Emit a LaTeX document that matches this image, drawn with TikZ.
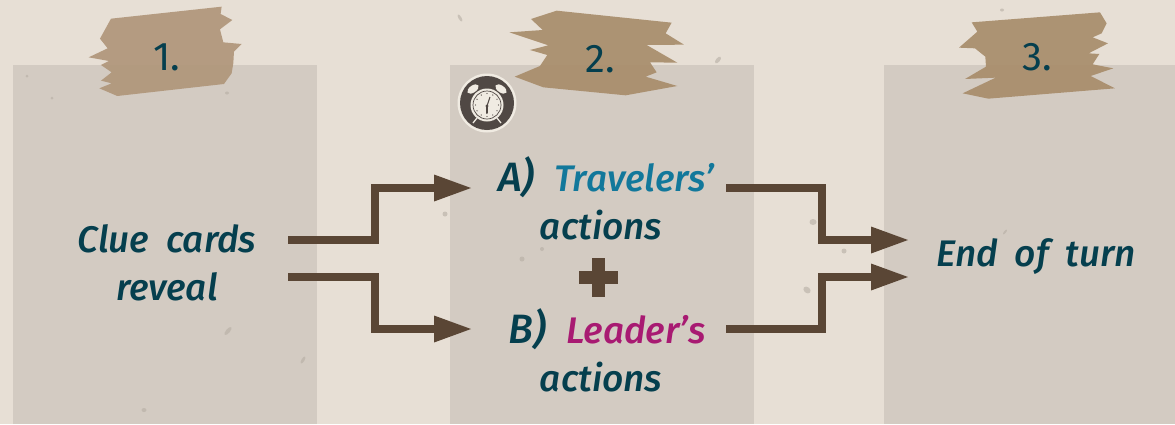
\documentclass[tikz,border=0pt]{standalone}
\usepackage{fontspec}
\setmainfont{Fira Sans}[ItalicFont={Fira Sans Medium Italic},WordSpace=1.9]
\definecolor{bgc}{HTML}{E7DFD5}
\definecolor{panelc}{HTML}{D3CBC2}
\definecolor{tapec}{HTML}{A88D6B}
\definecolor{tapel}{HTML}{B0967A}
\definecolor{arrowc}{HTML}{5A4635}
\definecolor{inkc}{HTML}{053F4E}
\definecolor{travc}{HTML}{12789B}
\definecolor{leadc}{HTML}{A81A72}
\definecolor{clockc}{HTML}{504844}
\definecolor{clockl}{HTML}{F0EBE2}
\definecolor{speck}{HTML}{B5ADA3}
\tikzset{
 panel/.style={fill=panelc,draw=none},
 tape/.style={fill=tapec,fill opacity=.92,draw=none},
 hand/.style={text=inkc,font=\itshape\fontsize{37}{48}\selectfont,align=center,inner sep=0pt},
 digit/.style={text=inkc,font=\fontsize{40}{48}\selectfont,inner sep=0pt,anchor=base},
 flow/.style={draw=arrowc,line width=8pt,line join=miter},
 tip/.style={fill=arrowc,draw=none},
 crossbar/.style={fill=arrowc,inner sep=0pt,draw=none},
 speckle/.style={fill=speck,fill opacity=.6,draw=none},
}
\newcommand{\headat}[1]{\fill[tip] ([shift={(-37,-13.5)}]#1) -- ([shift={(-37,13.5)}]#1) -- (#1) -- cycle;}
\begin{document}
\begin{tikzpicture}[x=1pt,y=-1pt]
\useasboundingbox (0,0) rectangle (1175,424);
\fill[bgc] (0,0) rectangle (1175,424);
\fill[panel] (13,65) rectangle (317,424);
\fill[panel] (450,65) rectangle (754,424);
\fill[panel] (884,65) rectangle (1175,424);
% specks
\foreach \x/\y/\rx/\ry/\a in {445/214/2.5/2.5/0,542/249/2/2/0,522/259/2.5/2.5/0,228/331/5/2/50,144/410/2.5/2/0,807/290/4/3/-40,844/251/2.5/2.5/0,813/222/3.5/3/0,718/60/4/2/50,460/18/4/1.5/-60,1002/10/2/1.5/0,227/93/2/1.5/0,303/360/4/1.5/60,52/98/1.5/1.5/0,27/76/1.5/1.5/0,1005/232/3/1/50}
 {\fill[speckle,rotate around={\a:(\x,\y)}] (\x,\y) ellipse ({\rx} and {\ry});}
% tapes
\begin{scope}[x=0.3333pt,y=-0.3333pt]
\fill[tape,fill=tapel] (333,56)--(665,20)--(662,42)--(697,60)--(660,88)--(670,127)--(725,132)--(702,155)--(700,190)--(695,220)--(672,252)--(352,288)--(298,265)--(335,250)--(303,242)--(335,217)--(303,195)--(327,183)--(266,172)--(323,145)--(300,116)--cycle;
\end{scope}
\begin{scope}[xshift=440pt,x=0.3333pt,y=-0.3333pt]
\fill[tape] (350,32)--(695,68)--(677,100)--(732,134)--(620,135)--(712,188)--(630,187)--(650,217)--(617,230)--(712,258)--(557,286)--(310,262)--(224,230)--(300,198)--(322,165)--(270,150)--(325,136)--(208,97)--(308,90)--(273,57)--cycle;
\end{scope}
\begin{scope}[xshift=880pt,x=0.3333pt,y=-0.3333pt]
\fill[tape] (275,67)--(660,37)--(680,70)--(665,100)--(638,112)--(684,130)--(626,160)--(658,162)--(638,193)--(700,205)--(632,228)--(705,265)--(325,296)--(248,280)--(347,233)--(255,237)--(318,200)--(316,170)--(285,145)--(237,143)--(292,95)--cycle;
\end{scope}
% labels
\node[digit] (n1) at (167,70) {1.};
\node[digit] (n2) at (600,72) {2.};
\node[digit] (n3) at (1037,70) {3.};
\node[hand] (clue) at (167,263) {Clue cards\\reveal};
\node[hand] (acta) at (601,198.5) {\hspace*{10pt}{\fontsize{41}{48}\selectfont A)}\hspace{20pt}\textcolor{travc}{Travelers’}\\actions};
\node[hand] (actb) at (601,350) {\hspace*{12pt}{\fontsize{41}{48}\selectfont B)}\hspace{20pt}\textcolor{leadc}{Leader’s}\\actions};
\node[hand] (endt) at (1036,257) {End of turn};
% plus
\node[crossbar,minimum width=39pt,minimum height=13pt] (plush) at (598.5,277.5) {};
\node[crossbar,minimum width=13pt,minimum height=39pt] (plusv) at (598.5,277.5) {};
% connector ends
\coordinate (cOutA) at (288,240);
\coordinate (cOutB) at (288,277);
\coordinate (aIn) at (471,188);
\coordinate (bIn) at (471,329);
\coordinate (aOut) at (726,188);
\coordinate (bOut) at (726,329);
\coordinate (eInA) at (908,240);
\coordinate (eInB) at (908,277);
\draw[flow] (cOutA) -| (375,188) -- ([xshift=-30]aIn);
\draw[flow] (cOutB) -| (375,329) -- ([xshift=-30]bIn);
\draw[flow] (aOut) -| (822,240) -- ([xshift=-30]eInA);
\draw[flow] (bOut) -| (822,277) -- ([xshift=-30]eInB);
\headat{aIn}\headat{bIn}\headat{eInA}\headat{eInB}
% clock
\begin{scope}[shift={(487,103)}]
\fill[clockl] (0,0) circle (29.5);
\fill[clockc] (0,0) circle (27);
\fill[clockl,rotate around={35:(-14,-14)}] (-14,-14) ellipse (6.5 and 3.5);
\fill[clockl,rotate around={-35:(14,-14)}] (14,-14) ellipse (6.5 and 3.5);
\draw[clockl,line width=1.3pt] (-10,15) -- (-14,20) (10,15) -- (14,20);
\fill[clockl] (0,2) circle (16.5);
\draw[clockc,line width=0.7pt] (0,2) circle (14);
\foreach \a in {0,30,...,330} {\fill[clockc] ([shift={(\a:11.5)}]0,2) circle (0.7);}
\draw[clockc,line width=2pt,line cap=round] (0,3) -- (0,10);
\draw[clockc,line width=1pt] (0,3) -- (3,-6);
\fill[clockc] (0,3) circle (1.6);
\end{scope}
\end{tikzpicture}
\end{document}
